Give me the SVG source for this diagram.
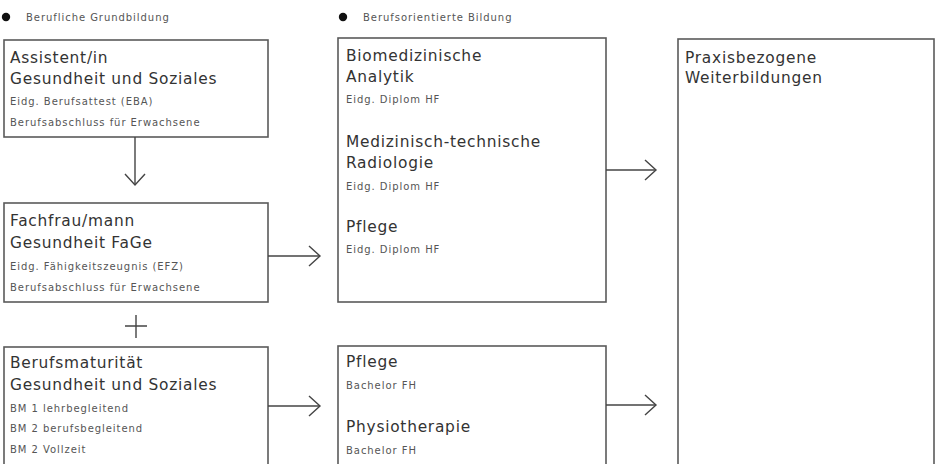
<svg xmlns="http://www.w3.org/2000/svg" width="935" height="464" viewBox="0 0 935 464">
<defs>
<style>
.box{fill:#fff;stroke:#5a5a5a;stroke-width:1.6}
.t{font-family:"DejaVu Sans","Liberation Sans",sans-serif;font-size:15.4px;fill:#333;letter-spacing:0.75px}
.s{font-family:"DejaVu Sans","Liberation Sans",sans-serif;font-size:10px;fill:#555;letter-spacing:0.95px}
.lg{font-family:"DejaVu Sans","Liberation Sans",sans-serif;font-size:10px;fill:#555;letter-spacing:0.95px}
.c{fill:none;stroke:#444;stroke-width:1.4}
</style>
<marker id="chev" viewBox="-13 -12 15 24" refX="0" refY="0" markerWidth="15" markerHeight="24" markerUnits="userSpaceOnUse" orient="auto" overflow="visible">
<path d="M-11,-10 L0,0 L-11,10" fill="none" stroke="#444" stroke-width="1.4"/>
</marker>
</defs>
<rect width="935" height="464" fill="#fff"/>
<g id="legend-grund">
<circle cx="6" cy="17" r="4.2" fill="#111"/>
<text class="lg" x="26" y="21">Berufliche Grundbildung</text>
</g>
<g id="legend-beruf">
<circle cx="343" cy="17" r="4.2" fill="#111"/>
<text class="lg" x="363" y="21">Berufsorientierte Bildung</text>
</g>
<g id="assistent">
<rect class="box" x="4" y="40" width="264" height="97"/>
<text class="t" x="10" y="63">Assistent/in</text>
<text class="t" x="10" y="84">Gesundheit und Soziales</text>
<text class="s" x="10" y="105">Eidg. Berufsattest (EBA)</text>
<text class="s" x="10" y="126">Berufsabschluss für Erwachsene</text>
</g>
<g id="fage">
<rect class="box" x="4" y="203" width="264" height="99"/>
<text class="t" x="10" y="226">Fachfrau/mann</text>
<text class="t" x="10" y="248">Gesundheit FaGe</text>
<text class="s" x="10" y="270">Eidg. Fähigkeitszeugnis (EFZ)</text>
<text class="s" x="10" y="291">Berufsabschluss für Erwachsene</text>
</g>
<g id="bm">
<rect class="box" x="4" y="347" width="264" height="140"/>
<text class="t" x="10" y="368">Berufsmaturität</text>
<text class="t" x="10" y="390">Gesundheit und Soziales</text>
<text class="s" x="10" y="412">BM 1 lehrbegleitend</text>
<text class="s" x="10" y="432">BM 2 berufsbegleitend</text>
<text class="s" x="10" y="453">BM 2 Vollzeit</text>
</g>
<g id="hf">
<rect class="box" x="338" y="38" width="268" height="264"/>
<text class="t" x="346" y="61">Biomedizinische</text>
<text class="t" x="346" y="82">Analytik</text>
<text class="s" x="346" y="103">Eidg. Diplom HF</text>
<text class="t" x="346" y="147">Medizinisch-technische</text>
<text class="t" x="346" y="168">Radiologie</text>
<text class="s" x="346" y="190">Eidg. Diplom HF</text>
<text class="t" x="346" y="232">Pflege</text>
<text class="s" x="346" y="253">Eidg. Diplom HF</text>
</g>
<g id="fh">
<rect class="box" x="338" y="346" width="268" height="140"/>
<text class="t" x="346" y="367">Pflege</text>
<text class="s" x="346" y="389">Bachelor FH</text>
<text class="t" x="346" y="432">Physiotherapie</text>
<text class="s" x="346" y="454">Bachelor FH</text>
</g>
<g id="weiterbildung">
<rect class="box" x="678" y="39" width="256" height="450"/>
<text class="t" x="685" y="63">Praxisbezogene</text>
<text class="t" x="685" y="83">Weiterbildungen</text>
</g>
<g id="connectors">
<line class="c" x1="135" y1="137" x2="135" y2="185" marker-end="url(#chev)"/>
<line class="c" x1="268" y1="256" x2="320" y2="256" marker-end="url(#chev)"/>
<line class="c" x1="268" y1="406" x2="320" y2="406" marker-end="url(#chev)"/>
<line class="c" x1="606" y1="170" x2="656" y2="170" marker-end="url(#chev)"/>
<line class="c" x1="606" y1="405" x2="656" y2="405" marker-end="url(#chev)"/>
<path class="c" d="M125,326 H147 M136,315 V338"/>
</g>
</svg>
